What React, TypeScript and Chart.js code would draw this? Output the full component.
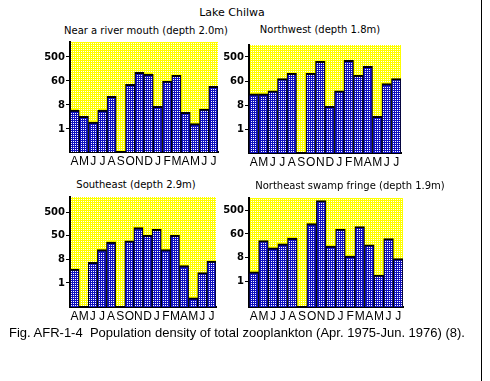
import React, { useEffect, useRef } from 'react';
import { Chart, registerables } from 'chart.js';
Chart.register(...registerables);

// ---- data ----
const months = ['A', 'M', 'J', 'J', 'A', 'S', 'O', 'N', 'D', 'J', 'F', 'M', 'A', 'M', 'J', 'J'];
const nearRiverMouth = [5.1, 3.0, 1.8, 5.1, 17, null, 48, 135, 117, 7.1, 64, 105, 4.2, 1.6, 5.6, 40];
const northwest = [22, 22, 28, 81, 127, null, 127, 354, 7.5, 28, 385, 105, 228, 3.2, 52, 81];
const southeast = [3.4, null, 6.2, 19, 37, null, 41, 133, 66, 112, 19, 66, 4.6, 0.27, 2.5, 6.8];
const northeastSwamp = [2.3, 36, 19, 27, 45, null, 159, 1205, 22, 99, 9.3, 122, 24.5, 1.75, 43, 7.4];
const tickValues = [1, 8, 64, 512];
const tickLabelsStd = ['1', '8', '60', '500'];
const tickLabelsSE = ['1', '8', '50', '500'];

const FONT = 'DejaVu Sans';
const XFONT = 'Liberation Sans';
const BAR_RGB = [16, 16, 192];
const BG_RGB = [255, 255, 0];

type Box = { l: number; t: number; r: number; b: number };
type PanelDef = {
  title: string;
  data: (number | null)[];
  labels: string[];
  box: Box;
  min: number;
  max: number;
  tx: number;
  ty: number;
};

const panels: PanelDef[] = [
  { title: 'Near a river mouth (depth 2.0m)', data: nearRiverMouth, labels: tickLabelsStd, box: { l: 70, t: 42, r: 218, b: 152 }, min: 0.136, max: 1878, tx: 146, ty: 31 },
  { title: 'Northwest (depth 1.8m)', data: northwest, labels: tickLabelsStd, box: { l: 249, t: 45, r: 401, b: 153 }, min: 0.138, max: 1418, tx: 320, ty: 30 },
  { title: 'Southeast (depth 2.9m)', data: southeast, labels: tickLabelsSE, box: { l: 70, t: 197, r: 216, b: 307 }, min: 0.12, max: 1950, tx: 136, ty: 185 },
  { title: 'Northeast swamp fringe (depth 1.9m)', data: northeastSwamp, labels: tickLabelsStd, box: { l: 249, t: 198, r: 403, b: 307 }, min: 0.106, max: 1500, tx: 350, ty: 186 },
];

const rgb = (c: number[]) => `rgb(${c[0]},${c[1]},${c[2]})`;
const near = (d: Uint8ClampedArray, k: number, c: number[]) =>
  Math.abs(d[k] - c[0]) < 6 && Math.abs(d[k + 1] - c[1]) < 6 && Math.abs(d[k + 2] - c[2]) < 6;

const Y_W = 40;
const X_H = 20;
const PAD_T = 10;
const PAD_R = 2;

function Panel({ p }: { p: PanelDef }) {
  const ref = useRef<HTMLCanvasElement | null>(null);
  const { l, t, r, b } = p.box;
  const w = r - l + Y_W + PAD_R;
  const h = b - t + PAD_T + X_H;
  const cx = l - Y_W;
  const cy = t - PAD_T;
  useEffect(() => {
    const canvas = ref.current!;
    const texturePlugin = {
      id: 'texture',
      beforeDraw(chart: any) {
        const { ctx, chartArea } = chart;
        ctx.save();
        ctx.fillStyle = rgb(BG_RGB);
        ctx.fillRect(chartArea.left, chartArea.top, chartArea.right - chartArea.left, chartArea.bottom - chartArea.top);
        ctx.restore();
      },
      afterDraw(chart: any) {
        const { ctx, chartArea } = chart;
        const x0 = Math.round(chartArea.left);
        const y0 = Math.round(chartArea.top);
        const ww = Math.round(chartArea.right) - x0;
        const hh = Math.round(chartArea.bottom) - y0;
        const img = ctx.getImageData(x0, y0, ww, hh);
        const d = img.data;
        for (let j = 0; j < hh; j++) {
          for (let i = 0; i < ww; i++) {
            const k = (j * ww + i) * 4;
            const PX = cx + x0 + i;
            const PY = cy + y0 + j;
            if (PX % 2 === 1 && PY % 2 === 1 && (near(d, k, BAR_RGB) || near(d, k, BG_RGB))) {
              d[k] = 255;
              d[k + 1] = 255;
              d[k + 2] = 255;
            }
          }
        }
        ctx.putImageData(img, x0, y0);
      },
    };
    const chart = new Chart(canvas, {
      type: 'bar',
      data: {
        labels: months,
        datasets: [
          {
            data: p.data as any,
            backgroundColor: rgb(BAR_RGB),
            borderColor: '#000',
            borderWidth: { top: 2, left: 1, right: 1, bottom: 0 } as any,
            borderSkipped: 'start',
            barPercentage: 1,
            categoryPercentage: 1,
          },
        ],
      },
      options: {
        animation: false,
        responsive: false,
        devicePixelRatio: 1,
        layout: { padding: { top: PAD_T, right: PAD_R, left: 0, bottom: 0 } },
        plugins: { legend: { display: false }, tooltip: { enabled: false }, title: { display: false } },
        scales: {
          x: {
            type: 'category',
            offset: true,
            grid: { display: false, drawTicks: false, tickLength: 0 },
            border: { display: true, color: '#000', width: 2 },
            ticks: { color: '#000', font: { family: XFONT, size: 12 }, padding: 2, maxRotation: 0, autoSkip: false },
            afterFit(s: any) {
              s.height = X_H;
            },
          },
          y: {
            type: 'logarithmic',
            min: p.min,
            max: p.max,
            grid: { display: true, drawOnChartArea: false, drawTicks: true, tickLength: 4, color: '#000', lineWidth: 1 },
            border: { display: true, color: '#000', width: 2 },
            afterBuildTicks(s: any) {
              s.ticks = tickValues.map((v) => ({ value: v }));
            },
            ticks: {
              color: '#000',
              font: { family: FONT, size: 10, weight: 'bold' },
              padding: 1,
              autoSkip: false,
              callback: (_v: any, i: number) => p.labels[i] ?? '',
            },
            afterFit(s: any) {
              s.width = Y_W;
            },
          },
        },
      },
      plugins: [texturePlugin],
    } as any);
    return () => chart.destroy();
  }, []);
  return (
    <canvas
      ref={ref}
      width={w}
      height={h}
      style={{ position: 'absolute', left: cx, top: cy, width: w, height: h }}
    />
  );
}

const textStyle = (x: number, y: number, size: number): React.CSSProperties => ({
  position: 'absolute',
  left: x,
  top: y,
  transform: 'translate(-50%, -50%)',
  whiteSpace: 'nowrap',
  fontFamily: FONT,
  fontSize: size,
  color: '#000',
  lineHeight: 1,
});

export default function App() {
  return (
    <div style={{ position: 'fixed', left: 0, top: 0, width: 490, height: 381, background: '#fff', overflow: 'hidden' }}>
      <div style={textStyle(232, 12, 11)}>Lake Chilwa</div>
      {panels.map((p, i) => (
        <React.Fragment key={i}>
          <div style={textStyle(p.tx, p.ty, 10)}>{p.title}</div>
          <Panel p={p} />
        </React.Fragment>
      ))}
      <div style={{ position: 'absolute', left: 9, top: 326, whiteSpace: 'nowrap', fontFamily: 'Liberation Sans', fontSize: 13, color: '#000', lineHeight: 1 }}>
        Fig. AFR-1-4&nbsp; Population density of total zooplankton (Apr. 1975-Jun. 1976) (8).
      </div>
      <div style={{ position: 'absolute', left: 481, top: 0, width: 1, height: 381, background: '#000' }} />
    </div>
  );
}
